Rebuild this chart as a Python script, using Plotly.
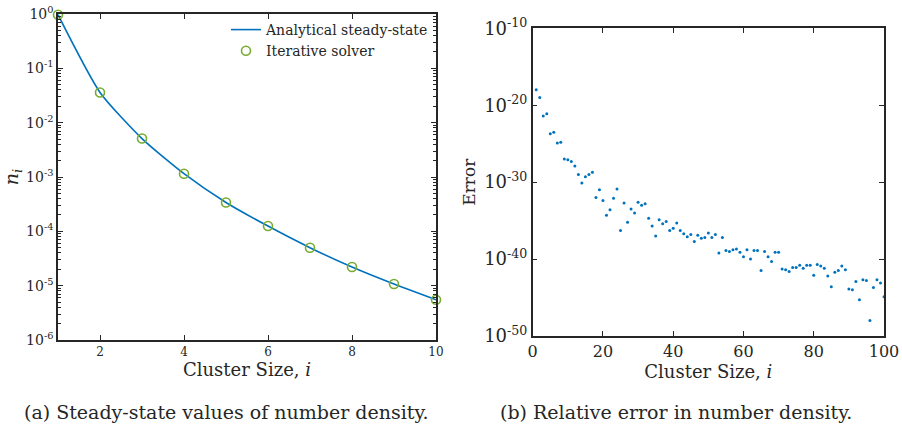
import plotly.graph_objects as go

# Left panel data
cluster_size_a = [1, 2, 3, 4, 5, 6, 7, 8, 9, 10]
density_analytical = [0.97, 0.036, 0.0051, 0.00115, 0.00034, 0.000125, 0.00005, 0.000022, 0.0000107, 0.0000055]
density_iterative = [0.97, 0.036, 0.0051, 0.00115, 0.00034, 0.000125, 0.00005, 0.000022, 0.0000107, 0.0000055]

# Right panel data (log10 of relative error)
cluster_size_b = list(range(1, 101))
log_error = [
    -18.0, -19.0, -21.4, -21.1, -23.7, -23.5, -24.9, -24.8, -27.0, -27.1,
    -27.3, -27.9, -29.0, -30.1, -29.3, -29.0, -28.7, -32.0, -31.0, -32.4,
    -34.3, -33.6, -32.1, -30.9, -36.3, -32.7, -35.2, -33.5, -34.0, -32.6,
    -33.0, -32.8, -34.7, -35.7, -37.0, -34.9, -35.4, -35.1, -36.3, -36.0,
    -35.3, -36.3, -36.7, -37.1, -36.8, -37.7, -36.9, -37.3, -37.2, -36.6,
    -37.2, -36.8, -39.2, -37.2, -38.9, -39.0, -38.8, -38.7, -39.1, -39.7,
    -38.8, -40.0, -38.9, -38.9, -41.5, -39.0, -39.7, -40.3, -39.1, -39.1,
    -41.3, -41.4, -41.6, -41.1, -41.1, -40.8, -41.2, -40.8, -40.8, -42.1,
    -40.7, -40.9, -41.2, -42.2, -43.6, -41.7, -41.5, -40.9, -41.4, -43.9,
    -44.0, -42.9, -45.3, -42.7, -42.8, -48.0, -43.7, -42.7, -43.1, -44.9,
]
error_values = [10 ** v for v in log_error]

left_ytick_vals = [1e-6, 1e-5, 1e-4, 1e-3, 1e-2, 1e-1, 1e0]
left_ytick_text = ["10<sup>-6</sup>", "10<sup>-5</sup>", "10<sup>-4</sup>", "10<sup>-3</sup>",
                   "10<sup>-2</sup>", "10<sup>-1</sup>", "10<sup>0</sup>"]
right_ytick_vals = [1e-50, 1e-40, 1e-30, 1e-20, 1e-10]
right_ytick_text = ["10<sup>-50</sup>", "10<sup>-40</sup>", "10<sup>-30</sup>", "10<sup>-20</sup>", "10<sup>-10</sup>"]

left_minor_vals = [m * d for d in left_ytick_vals[:-1] for m in range(2, 10)]

FONT = "DejaVu Serif"
AXC = "#262626"
BLUE = "#0072BD"
GREEN = "#77AC30"

W, H = 902, 427


def px(x):
    return x / W


def py(y):
    return 1 - y / H


fig = go.Figure()

fig.add_trace(go.Scatter(
    x=cluster_size_a, y=density_analytical, mode="lines",
    line=dict(color=BLUE, width=1.6, shape="spline", smoothing=0.6), name="Analytical steady-state",
    xaxis="x", yaxis="y"))
fig.add_trace(go.Scatter(
    x=cluster_size_a, y=density_iterative, mode="markers", cliponaxis=False,
    marker=dict(symbol="circle-open", color=GREEN, size=9, line=dict(width=1.6, color=GREEN)),
    name="Iterative solver", xaxis="x", yaxis="y"))
fig.add_trace(go.Scatter(
    x=cluster_size_b, y=error_values, mode="markers", cliponaxis=False,
    marker=dict(color=BLUE, size=3), showlegend=False, xaxis="x2", yaxis="y2"))

common = dict(showline=True, linecolor=AXC, linewidth=1.5, mirror="ticks", ticks="inside",
              tickcolor=AXC, showgrid=False, zeroline=False, automargin=False)

fig.update_layout(
    width=W, height=H,
    margin=dict(l=0, r=0, t=0, b=0),
    paper_bgcolor="white", plot_bgcolor="white",
    font=dict(family=FONT, color=AXC),
    xaxis=dict(domain=[px(58), px(436)], range=[1, 10], tickvals=[2, 4, 6, 8, 10],
               ticklen=5, tickfont=dict(size=12),
               title=dict(text="Cluster Size, <i>i</i>", font=dict(size=18), standoff=4),
               anchor="y", **common),
    yaxis=dict(domain=[py(340), py(14)], type="log", range=[-6, 0],
               tickvals=left_ytick_vals, ticktext=left_ytick_text, ticklen=5,
               tickfont=dict(size=14),
               minor=dict(ticks="inside", ticklen=3, tickcolor=AXC, tickvals=left_minor_vals),
               title=dict(text="<i>n<sub>i</sub></i>", font=dict(size=19), standoff=4),
               anchor="x", **common),
    xaxis2=dict(domain=[px(532.7), px(884)], range=[0, 100], tickvals=[0, 20, 40, 60, 80, 100],
                ticklen=5, tickfont=dict(size=16),
                title=dict(text="Cluster Size, <i>i</i>", font=dict(size=18), standoff=2),
                anchor="y2", **common),
    yaxis2=dict(domain=[py(336), py(28.3)], type="log", range=[-50, -10],
                tickvals=right_ytick_vals, ticktext=right_ytick_text, ticklen=5,
                tickfont=dict(size=18),
                title=dict(text="Error", font=dict(size=17), standoff=4),
                anchor="x2", **common),
    legend=dict(x=px(434), y=py(14), xanchor="right", yanchor="top",
                bgcolor="rgba(255,255,255,0)", font=dict(size=14, family=FONT),
                itemwidth=30, tracegroupgap=0),
    annotations=[
        dict(text="(a) Steady-state values of number density.", x=px(226), y=py(412),
             xref="paper", yref="paper", xanchor="center", yanchor="middle",
             showarrow=False, font=dict(size=19, family=FONT)),
        dict(text="(b) Relative error in number density.", x=px(676), y=py(412),
             xref="paper", yref="paper", xanchor="center", yanchor="middle",
             showarrow=False, font=dict(size=19, family=FONT)),
    ],
)

fig.write_html(
    "out.html",
    config={"displayModeBar": False},
    post_script="document.body.style.margin='0';document.body.style.overflow='hidden';",
)
